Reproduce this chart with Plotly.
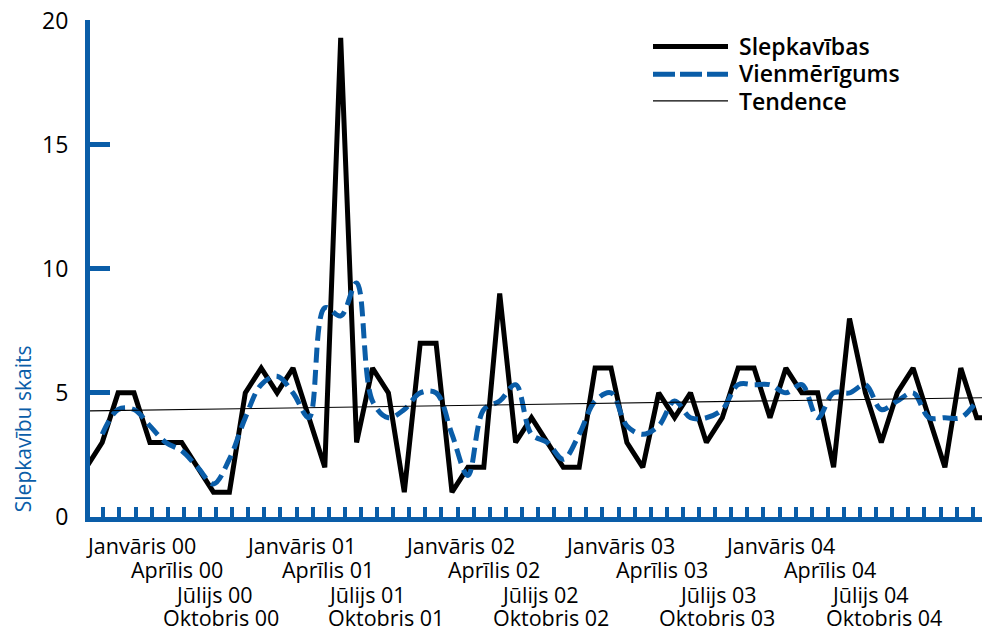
import plotly.graph_objects as go

# ---- data ----
months = list(range(58))  # Jan 2000 .. Oct 2004, monthly
slepkavibas = [2, 3, 5, 5, 3, 3, 3, 2, 1, 1,
               5, 6, 5, 6, 4, 2, 19.3, 3, 6, 5,
               1, 7, 7, 1, 2, 2, 9, 3, 4, 3,
               2, 2, 6, 6, 3, 2, 5, 4, 5, 3,
               4, 6, 6, 4, 6, 5, 5, 2, 8, 5,
               3, 5, 6, 4, 2, 6, 4, 4]
vienmerigums = [None, 3.33, 4.33, 4.33, 3.67, 3.0, 2.67, 2.0, 1.33, 2.33,
                4.0, 5.33, 5.67, 5.0, 4.0, 8.43, 8.1, 9.43, 4.67, 4.0,
                4.33, 5.0, 5.0, 3.33, 1.67, 4.33, 4.67, 5.33, 3.33, 3.0,
                2.33, 3.33, 4.67, 5.0, 3.67, 3.33, 3.67, 4.67, 4.0, 4.0,
                4.33, 5.33, 5.33, 5.33, 5.0, 5.33, 4.0, 5.0, 5.0, 5.33,
                4.33, 4.67, 5.0, 4.0, 4.0, 4.0, 4.67, None]
tendence_x = [0, 57]
tendence_y = [4.27, 4.81]
y_ticks = [0, 5, 10, 15, 20]
x_label_rows = [
    ["Janvāris 00", "Janvāris 01", "Janvāris 02", "Janvāris 03", "Janvāris 04"],
    ["Aprīlis 00", "Aprīlis 01", "Aprīlis 02", "Aprīlis 03", "Aprīlis 04"],
    ["Jūlijs 00", "Jūlijs 01", "Jūlijs 02", "Jūlijs 03", "Jūlijs 04"],
    ["Oktobris 00", "Oktobris 01", "Oktobris 02", "Oktobris 03", "Oktobris 04"],
]
legend_names = ["Slepkavības", "Vienmērīgums", "Tendence"]
y_title = "Slepkavību skaits"

# ---- layout geometry ----
W, H = 990, 632
OFF = 8                      # page body margin of the html page
Y_TOP = 20.02                # a hair above 20 so the top tick is kept
T_SCREEN, B_SCREEN = 20.7, 516.7
PX_PER_Y = (B_SCREEN - T_SCREEN) / 20.0
L = 90 - OFF
T = T_SCREEN - (Y_TOP - 20) * PX_PER_Y - OFF
R = 0
B = H - (B_SCREEN - OFF)
PW, PH = W - L - R, H - T - B
BLUE = "#0a5da8"
FONT = "Open Sans"

def px(xs):  # screen pixel -> paper
    return (xs - OFF - L) / PW

def py(ys):
    return 1 - (ys - OFF - T) / PH

x_start = 0.233
x_end = x_start + PW / 15.9

fig = go.Figure()
fig.add_trace(go.Scatter(x=months, y=slepkavibas, mode="lines",
                         line=dict(color="black", width=5),
                         name=legend_names[0], showlegend=False))
fig.add_trace(go.Scatter(x=months, y=vienmerigums, mode="lines",
                         line=dict(color=BLUE, width=5, dash="15px,7px",
                                   shape="spline", smoothing=1),
                         name=legend_names[1], showlegend=False))
fig.add_trace(go.Scatter(x=tendence_x, y=tendence_y, mode="lines",
                         line=dict(color="black", width=1.2),
                         name=legend_names[2], showlegend=False))

annotations = []
shapes = []

# x labels (staggered rows)
row_y = [545, 569, 594, 617]
row_centers = [
    [141, 301, 460, 620, 780],
    [177, 328, 494, 662, 830],
    [214, 367, 540, 718, 870],
    [221, 386, 551, 717, 884],
]
for r, labels in enumerate(x_label_rows):
    for c, txt in enumerate(labels):
        annotations.append(dict(text=txt, xref="paper", yref="paper",
                                x=px(row_centers[r][c]), y=py(row_y[r]),
                                xanchor="center", yanchor="middle",
                                showarrow=False,
                                font=dict(family=FONT, size=21.5, color="black", weight=500)))

# y title
annotations.append(dict(text=y_title, xref="paper", yref="paper",
                        x=px(23), y=py(429), textangle=-90,
                        xanchor="center", yanchor="middle", showarrow=False,
                        font=dict(family=FONT, size=21, color=BLUE)))

# custom legend
leg_line_y = [46.7, 74.3, 101]
leg_text_y = [46, 73.3, 100.7]
leg_styles = [dict(color="black", width=5),
              dict(color=BLUE, width=5, dash="22px,5px"),
              dict(color="black", width=1.3)]
for i, name in enumerate(legend_names):
    shapes.append(dict(type="line", xref="paper", yref="paper",
                       x0=px(653), x1=px(728), y0=py(leg_line_y[i]), y1=py(leg_line_y[i]),
                       line=leg_styles[i]))
    annotations.append(dict(text=name, xref="paper", yref="paper",
                            x=px(737), y=py(leg_text_y[i]),
                            xanchor="left", yanchor="middle", showarrow=False,
                            font=dict(family=FONT, size=23, color="black", weight=600)))

fig.update_layout(
    width=W, height=H,
    margin=dict(l=L, r=R, t=T, b=B, pad=0),
    paper_bgcolor="white", plot_bgcolor="white",
    showlegend=False,
    annotations=annotations, shapes=shapes,
    xaxis=dict(range=[x_start, x_end], tickmode="linear", tick0=0.057, dtick=1.0126,
               ticks="inside", ticklen=10, tickwidth=4, tickcolor=BLUE,
               showticklabels=False, showline=True, linecolor=BLUE, linewidth=4.5,
               showgrid=False, zeroline=False, automargin=False),
    yaxis=dict(range=[0, Y_TOP], tickvals=y_ticks,
               ticks="inside", ticklen=20, tickwidth=4.5, tickcolor=BLUE,
               showline=True, linecolor=BLUE, linewidth=5,
               ticklabelstandoff=12, ticklabeloverflow="allow",
               tickfont=dict(family=FONT, size=23, color="black"),
               showgrid=False, zeroline=False, automargin=False),
)

fig.write_html("out.html")
